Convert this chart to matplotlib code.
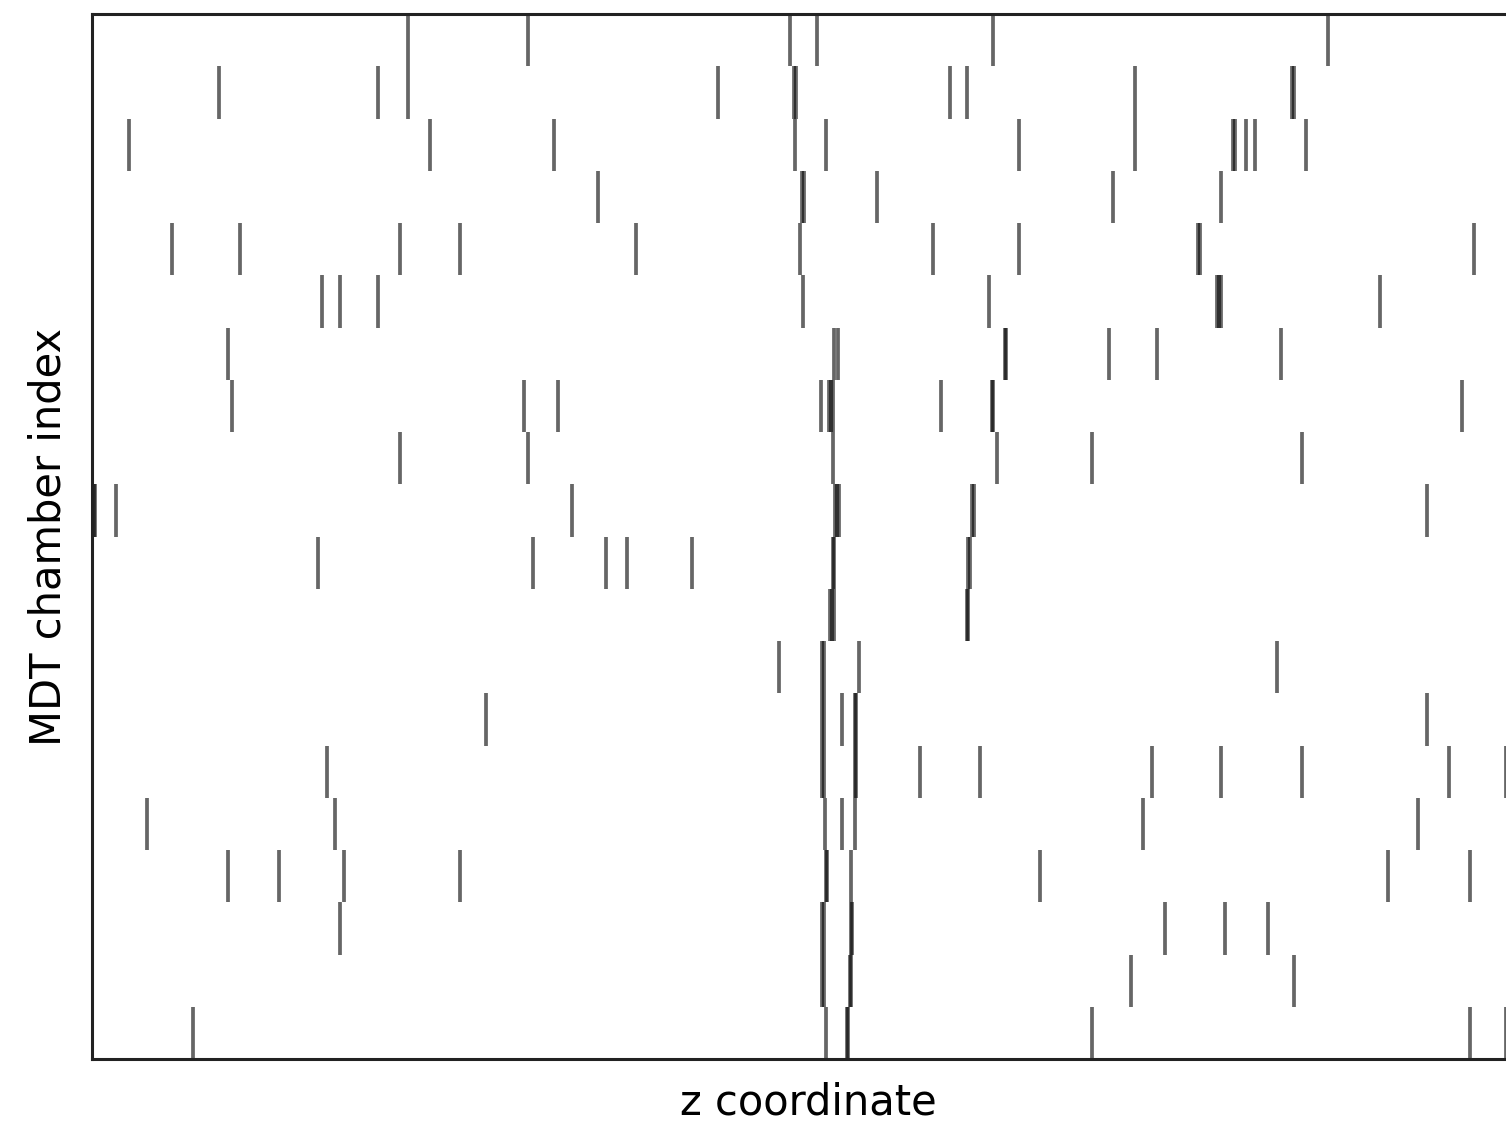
import matplotlib
matplotlib.use("Agg")
import matplotlib.pyplot as plt

# hit positions along z for each MDT chamber, chamber 0 at the top
hits = [
    [316, 436, 698, 725, 901, 1236],
    [127, 286, 316, 626, 702, 704, 858, 875, 1043, 1200, 1202],
    [37, 338, 462, 703, 734, 927, 1043, 1141, 1143, 1154, 1163, 1214],
    [506, 710, 712, 785, 1021, 1129],
    [80, 148, 308, 368, 544, 708, 841, 927, 1106, 1108, 1382],
    [230, 248, 286, 711, 897, 1125, 1127, 1129, 1288],
    [136, 742, 746, 913, 914, 1017, 1065, 1189],
    [140, 432, 466, 729, 737, 739, 741, 849, 900, 901, 1370],
    [308, 436, 741, 905, 1000, 1210],
    [2, 3, 24, 480, 743, 745, 747, 880, 882, 1335],
    [226, 441, 514, 535, 600, 741, 742, 876, 878],
    [738, 740, 742, 875, 876],
    [687, 730, 732, 767, 1185],
    [394, 730, 732, 750, 763, 764, 1335],
    [235, 730, 732, 763, 764, 828, 888, 1060, 1129, 1210, 1357, 1414],
    [55, 243, 733, 750, 763, 1051, 1326],
    [136, 187, 252, 368, 734, 735, 759, 948, 1296, 1378],
    [248, 730, 732, 759, 760, 1073, 1133, 1176],
    [730, 732, 758, 759, 1039, 1202],
    [101, 734, 755, 756, 1000, 1378, 1414],
]
z_range = (0, 1432)

fig = plt.figure(figsize=(7.53, 5.61), dpi=200)
ax = fig.add_axes([92 / 1506, (1122 - 1059) / 1122, 1432 / 1506, 1045 / 1122])

ax.eventplot(hits, colors="k", alpha=0.6, linelengths=1, linewidths=1.35)

ax.set_xlim(*z_range)
ax.set_ylim(len(hits) - 0.5, -0.5)
ax.set_xticks([])
ax.set_yticks([])
for s in ax.spines.values():
    s.set_linewidth(1.1)
    s.set_color("#222222")

ax.set_xlabel("z coordinate", fontsize=15, labelpad=8)
ax.set_ylabel("MDT chamber index", fontsize=15, labelpad=8)

fig.savefig("out.png", dpi=200)
